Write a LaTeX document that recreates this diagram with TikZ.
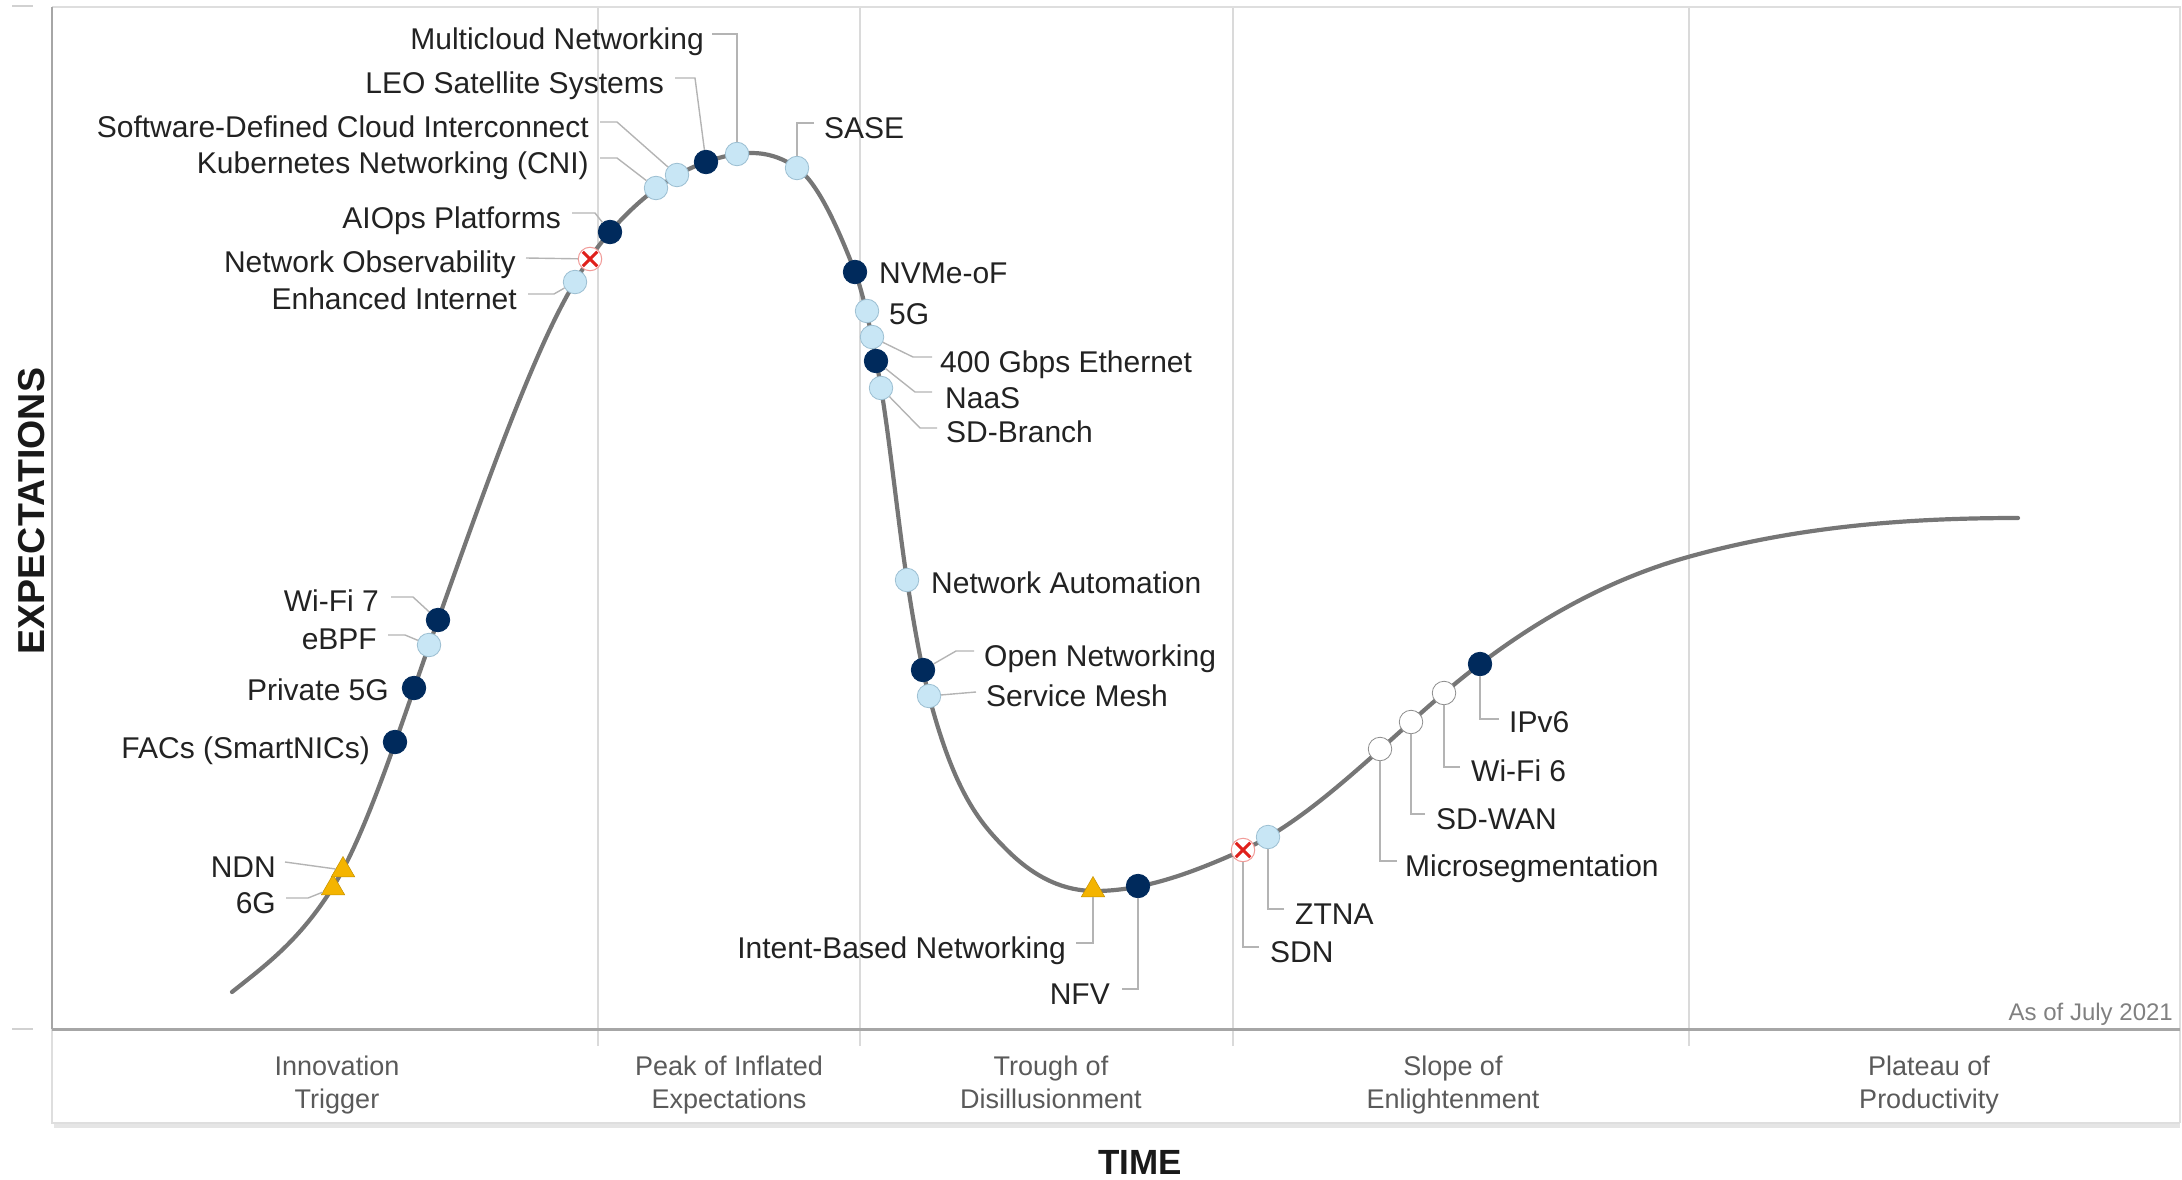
\documentclass[tikz,border=0pt]{standalone}
\usepackage{fontspec}
\setmainfont{Liberation Sans}
\usetikzlibrary{shapes.geometric}

\definecolor{navy}{HTML}{002A5C}
\definecolor{skyfill}{HTML}{C8E6F5}
\definecolor{skyline}{HTML}{9CBFD2}
\definecolor{curvegray}{HTML}{767676}
\definecolor{leadgray}{HTML}{B4B4B4}
\definecolor{gridgray}{HTML}{DADADA}
\definecolor{axisgray}{HTML}{A6A6A6}
\definecolor{framegray}{HTML}{DEDEDE}
\definecolor{amber}{HTML}{F4B400}
\definecolor{xred}{HTML}{E0201B}
\definecolor{phasegray}{HTML}{5A5A5A}
\definecolor{inkgray}{HTML}{222222}

\begin{document}
\begin{tikzpicture}[x=1pt,y=-1pt,
  dot/.style={circle,inner sep=0pt,minimum size=23.5pt,line width=0.8pt},
  dk/.style={dot,fill=navy,draw=navy},
  lb/.style={dot,fill=skyfill,draw=skyline},
  wh/.style={dot,fill=white,draw=black!45},
  obs/.style={dot,fill=white,draw=xred!45,line width=1pt,
    path picture={
      \draw[xred,solid,line width=3pt]
        ([shift={(4.5pt,4.5pt)}]path picture bounding box.south west) -- ++(14.5pt,14.5pt);
      \draw[xred,solid,line width=3pt]
        ([shift={(4.5pt,-4.5pt)}]path picture bounding box.north west) -- ++(14.5pt,-14.5pt);
    }},
  tri/.style={regular polygon,regular polygon sides=3,inner sep=0pt,minimum size=27pt,
    fill=amber,draw=amber!80!black,line width=0.5pt},
  lbl/.style={inner sep=0pt,text height=21.5pt,text depth=0pt,
    font=\fontsize{30}{34}\selectfont,text=inkgray},
  lead/.style={draw=leadgray,line width=1.4pt},
  phase/.style={align=center,inner sep=0pt,font=\fontsize{27}{33}\selectfont,text=phasegray},
  axistitle/.style={inner sep=0pt,font=\fontsize{35}{40}\selectfont\bfseries,text=black!90}
]
\useasboundingbox (0,0) rectangle (2182,1180);

% ---- frame, phase separators and axes ----
\foreach \gx in {598,860,1233,1689}
  \draw[gridgray,line width=1.5pt] (\gx,7) -- (\gx,1046);
\draw[framegray,line width=2pt] (52,7) -- (2180,7) -- (2180,1123);
\fill[black!10] (54,1123) rectangle (2180,1128);
\draw[framegray,line width=2pt] (52,1029) -- (52,1123) -- (2180,1123);
\draw[axisgray,line width=2pt] (52,7) -- (52,1029);
\draw[axisgray,line width=3pt] (52,1029) -- (2180,1029);
\draw[black!18,line width=2pt] (12,6) -- (33,6);
\draw[black!18,line width=2pt] (12,1029) -- (33,1029);

% ---- hype cycle curve ----
\draw[curvegray,line width=4.2pt,line cap=round]
  (232,992) .. controls (265.7,965.1) and (299.3,940.9) .. (333,887)
  .. controls (368,831) and (403,718) .. (438,620)
  .. controls (473.7,520.1) and (509.3,418.5) .. (545,340)
  .. controls (566.7,292.3) and (588.3,256.9) .. (610,232)
  .. controls (642,195.2) and (674,173.2) .. (706,162)
  .. controls (721.3,156.6) and (736.7,153) .. (752,153)
  .. controls (767,153) and (782,157.5) .. (797,168)
  .. controls (816.3,181.5) and (835.7,221.7) .. (855,272)
  .. controls (863.7,294.5) and (872.3,336) .. (881,388)
  .. controls (889.7,440) and (898.3,523.7) .. (907,580)
  .. controls (914.3,627.7) and (921.7,668.1) .. (929,696)
  .. controls (955,794.8) and (981,824) .. (1007,850)
  .. controls (1036.3,879.3) and (1065.7,891) .. (1095,891)
  .. controls (1144.3,891) and (1193.7,872.2) .. (1243,850)
  .. controls (1310,819.8) and (1377,750) .. (1444,693)
  .. controls (1525.3,623.9) and (1606.7,579.8) .. (1688,557)
  .. controls (1798,526.2) and (1908,518) .. (2018,518);

% ---- technology markers ----
\node[tri] (d-6g)     at (333,888) {};
\node[tri] (d-ndn)    at (343,870) {};
\node[dk]  (d-facs)   at (395,742) {};
\node[dk]  (d-p5g)    at (414,688) {};
\node[lb]  (d-ebpf)   at (429,645) {};
\node[dk]  (d-wifi7)  at (438,620) {};
\node[lb]  (d-enh)    at (575,282) {};
\node[obs] (d-obs)    at (590,259) {};
\node[dk]  (d-aiops)  at (610,232) {};
\node[lb]  (d-kub)    at (656,188) {};
\node[lb]  (d-sdci)   at (677,175) {};
\node[dk]  (d-leo)    at (706,162) {};
\node[lb]  (d-multi)  at (737,154) {};
\node[lb]  (d-sase)   at (797,168) {};
\node[dk]  (d-nvme)   at (855,272) {};
\node[lb]  (d-5g)     at (867,311) {};
\node[lb]  (d-400g)   at (872,337) {};
\node[dk]  (d-naas)   at (876,361) {};
\node[lb]  (d-sdbr)   at (881,388) {};
\node[lb]  (d-auto)   at (907,580) {};
\node[dk]  (d-open)   at (923,670) {};
\node[lb]  (d-mesh)   at (929,696) {};
\node[tri] (d-ibn)    at (1093,890) {};
\node[dk]  (d-nfv)    at (1138,886) {};
\node[obs] (d-sdn)    at (1243,850) {};
\node[lb]  (d-ztna)   at (1268,837) {};
\node[wh]  (d-micro)  at (1380,749) {};
\node[wh]  (d-sdwan)  at (1411,722) {};
\node[wh]  (d-wifi6)  at (1444,693) {};
\node[dk]  (d-ipv6)   at (1480,664) {};

% ---- labels on the left of the curve ----
\node[lbl,anchor=east] (t-multi) at (704,39)  {Multicloud Networking};
\node[lbl,anchor=east] (t-leo)   at (664,83)  {LEO Satellite Systems};
\node[lbl,anchor=east] (t-sdci)  at (589,127) {Software-Defined Cloud Interconnect};
\node[lbl,anchor=east] (t-kub)   at (589,163) {Kubernetes Networking (CNI)};
\node[lbl,anchor=east] (t-aiops) at (561,218) {AIOps Platforms};
\node[lbl,anchor=east] (t-obs)   at (516,262) {Network Observability};
\node[lbl,anchor=east] (t-enh)   at (517,299) {Enhanced Internet};
\node[lbl,anchor=east] (t-wifi7) at (379,601) {Wi-Fi 7};
\node[lbl,anchor=east] (t-ebpf)  at (377,639) {eBPF};
\node[lbl,anchor=east] (t-p5g)   at (389,690) {Private 5G};
\node[lbl,anchor=east] (t-facs)  at (370,748) {FACs (SmartNICs)};
\node[lbl,anchor=east] (t-ndn)   at (276,867) {NDN};
\node[lbl,anchor=east] (t-6g)    at (276,903) {6G};
\node[lbl,anchor=east] (t-ibn)   at (1066,948) {Intent-Based Networking};
\node[lbl,anchor=east] (t-nfv)   at (1110,994) {NFV};

% ---- labels on the right of the curve ----
\node[lbl,anchor=west] (t-sase)  at (824,128) {SASE};
\node[lbl,anchor=west] (t-nvme)  at (879,273) {NVMe-oF};
\node[lbl,anchor=west] (t-5g)    at (889,314) {5G};
\node[lbl,anchor=west] (t-400g)  at (940,362) {400 Gbps Ethernet};
\node[lbl,anchor=west] (t-naas)  at (945,398) {NaaS};
\node[lbl,anchor=west] (t-sdbr)  at (946,432) {SD-Branch};
\node[lbl,anchor=west] (t-auto)  at (931,583) {Network Automation};
\node[lbl,anchor=west] (t-open)  at (984,656) {Open Networking};
\node[lbl,anchor=west] (t-mesh)  at (986,696) {Service Mesh};
\node[lbl,anchor=west] (t-sdn)   at (1270,952) {SDN};
\node[lbl,anchor=west] (t-ztna)  at (1295,914) {ZTNA};
\node[lbl,anchor=west] (t-micro) at (1405,866) {Microsegmentation};
\node[lbl,anchor=west] (t-sdwan) at (1436,819) {SD-WAN};
\node[lbl,anchor=west] (t-wifi6) at (1471,771) {Wi-Fi 6};
\node[lbl,anchor=west] (t-ipv6)  at (1509,722) {IPv6};

% ---- leader lines ----
\draw[lead] ([xshift=8pt,yshift=5pt]t-multi.east) -| (d-multi);
\draw[lead] ([xshift=11pt,yshift=5pt]t-leo.east) -- ++(20,0) -- (d-leo);
\draw[lead] ([xshift=11pt,yshift=5pt]t-sdci.east) -- ++(17,0) -- (d-sdci);
\draw[lead] ([xshift=11pt,yshift=5pt]t-kub.east) -- ++(17,0) -- (d-kub);
\draw[lead] ([xshift=11pt,yshift=5pt]t-aiops.east) -- ++(23,0) -- (d-aiops);
\draw[lead] ([xshift=10pt,yshift=4pt]t-obs.east) -- (d-obs);
\draw[lead] ([xshift=11pt,yshift=5pt]t-enh.east) -- ++(26,0) -- (d-enh);
\draw[lead] ([xshift=12pt,yshift=4pt]t-wifi7.east) -- ++(22,0) -- (d-wifi7);
\draw[lead] ([xshift=11pt,yshift=4pt]t-ebpf.east) -- ++(17,0) -- (d-ebpf);
\draw[lead] ([xshift=9pt,yshift=5pt]t-ndn.east) -- (d-ndn);
\draw[lead] ([xshift=10pt,yshift=5pt]t-6g.east) -- ++(22,0) -- (d-6g);
\draw[lead] ([xshift=10pt,yshift=5pt]t-ibn.east) -| (d-ibn);
\draw[lead] ([xshift=12pt,yshift=5pt]t-nfv.east) -| (d-nfv);
\draw[lead] ([xshift=-10pt,yshift=5pt]t-sase.west) -| (d-sase);
\draw[lead] ([xshift=-8pt,yshift=5pt]t-400g.west) -- ++(-19,0) -- (d-400g);
\draw[lead] ([xshift=-13pt,yshift=6pt]t-naas.west) -- ++(-17,0) -- (d-naas);
\draw[lead] ([xshift=-9pt,yshift=4pt]t-sdbr.west) -- ++(-17,0) -- (d-sdbr);
\draw[lead] ([xshift=-10pt,yshift=5pt]t-open.west) -- ++(-18,0) -- (d-open);
\draw[lead] ([xshift=-10pt,yshift=4pt]t-mesh.west) -- (d-mesh);
\draw[lead] ([xshift=-11pt,yshift=5pt]t-sdn.west) -| (d-sdn);
\draw[lead] ([xshift=-11pt,yshift=5pt]t-ztna.west) -| (d-ztna);
\draw[lead] ([xshift=-8pt,yshift=5pt]t-micro.west) -| (d-micro);
\draw[lead] ([xshift=-11pt,yshift=5pt]t-sdwan.west) -| (d-sdwan);
\draw[lead] ([xshift=-11pt,yshift=4pt]t-wifi6.west) -| (d-wifi6);
\draw[lead] ([xshift=-10pt,yshift=3pt]t-ipv6.west) -| (d-ipv6);

% ---- phase names, stamp and axis titles ----
\node[phase] (p-trigger) at (337,1085)  {\strut Innovation\\\strut Trigger};
\node[phase] (p-peak)    at (729,1085)  {\strut Peak of Inflated\\\strut Expectations};
\node[phase] (p-trough)  at (1051,1085) {\strut Trough of\\\strut Disillusionment};
\node[phase] (p-slope)   at (1453,1085) {\strut Slope of\\\strut Enlightenment};
\node[phase] (p-plateau) at (1929,1085) {\strut Plateau of\\\strut Productivity};
\node[inner sep=0pt,anchor=east,font=\fontsize{24}{28}\selectfont,text=black!50]
  (stamp) at (2173,1014) {As of July 2021};
\node[axistitle] (x-title) at (1140,1162) {TIME};
\node[axistitle,font=\fontsize{37.5}{42}\selectfont\bfseries,rotate=90] (y-title) at (32,511) {EXPECTATIONS};
\end{tikzpicture}
\end{document}
